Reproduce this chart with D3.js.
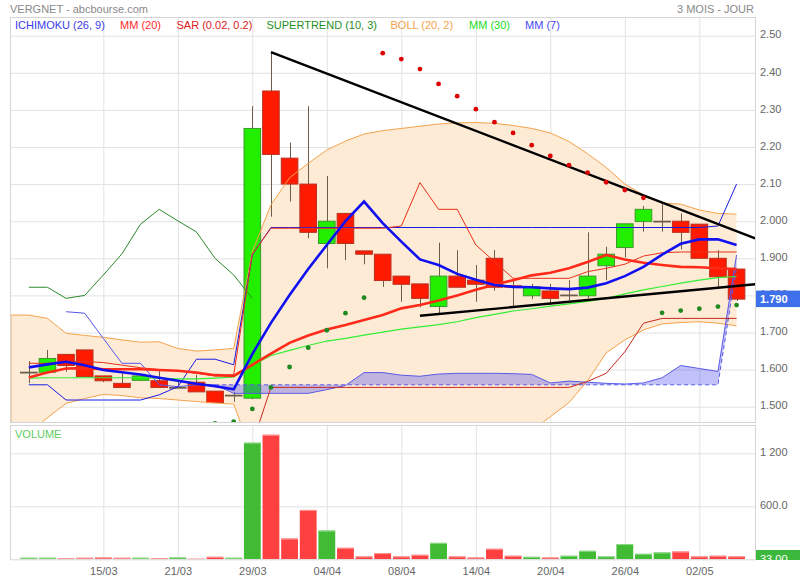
<!DOCTYPE html>
<html><head><meta charset="utf-8">
<script src="https://cdn.jsdelivr.net/npm/d3@7"></script>
<style>body{margin:0;background:#fff}svg{display:block;font-family:"Liberation Sans",Arial,sans-serif}</style>
</head><body><svg id="c" width="800" height="580"></svg>
<script>
// ---------- DATA ----------
const dateLabels = ["15/03","21/03","29/03","04/04","08/04","14/04","20/04","26/04","02/05"];
const dateTickIndex = [4,8,12,16,20,24,28,32,36];
const priceTickValues = [2.5,2.4,2.3,2.2,2.1,2.0,1.9,1.8,1.7,1.6,1.5];
const priceTickLabels = ["2.50","2.40","2.30","2.20","2.10","2.000","1.900","1.800","1.700","1.600","1.500"];
const volTickValues = [1200, 600];
const volTickLabels = ["1 200", "600.0"];

const open  = [1.593,1.593,1.641,1.653,1.583,1.563,1.571,1.570,1.552,1.566,1.542,1.531,1.523,2.351,2.170,2.100,1.940,2.021,1.920,1.911,1.852,1.831,1.770,1.852,1.841,1.900,1.826,1.799,1.812,1.801,1.799,1.880,1.929,1.999,2.000,2.000,1.992,1.900,1.871];
const high  = [1.623,1.653,1.641,1.653,1.583,1.590,1.583,1.599,1.568,1.586,1.542,1.540,2.310,2.456,2.212,2.310,2.122,2.021,1.920,1.911,1.852,1.831,1.942,1.922,1.882,1.922,1.841,1.831,1.831,1.841,1.970,1.931,1.993,2.041,2.048,2.021,1.992,1.922,1.871];
const low   = [1.563,1.593,1.594,1.581,1.566,1.552,1.571,1.552,1.552,1.540,1.511,1.513,1.520,2.012,2.053,1.954,1.873,1.895,1.884,1.823,1.783,1.768,1.752,1.822,1.783,1.813,1.771,1.790,1.774,1.786,1.792,1.841,1.902,1.972,1.972,1.924,1.900,1.823,1.785];
const close = [1.593,1.630,1.611,1.581,1.570,1.552,1.583,1.552,1.552,1.540,1.511,1.531,2.250,2.180,2.100,1.970,2.000,1.940,1.911,1.840,1.830,1.792,1.852,1.822,1.830,1.822,1.822,1.823,1.792,1.801,1.852,1.911,1.993,2.032,2.000,1.970,1.900,1.850,1.790];
const volume = [17,17,9,17,20,17,17,14,20,6,28,17,1320,1410,235,559,325,130,32,70,32,51,186,32,20,119,40,28,20,40,96,32,172,62,77,88,32,40,33];

// Bollinger (20,2) from index -1
const bbStart = -1;
const bbUpper = [1.747,1.747,1.738,1.698,1.692,1.687,1.680,1.674,1.675,1.657,1.650,1.653,1.657,1.918,2.044,2.117,2.156,2.192,2.216,2.235,2.244,2.250,2.256,2.262,2.265,2.266,2.264,2.258,2.250,2.238,2.215,2.182,2.145,2.100,2.071,2.049,2.046,2.030,2.021,2.019];
const bbLower = [1.40,1.43,1.47,1.509,1.522,1.533,1.530,1.524,1.522,1.518,1.514,1.510,1.507,1.37,1.26,1.21,1.19,1.18,1.18,1.19,1.20,1.22,1.25,1.28,1.31,1.34,1.37,1.40,1.435,1.473,1.511,1.570,1.645,1.680,1.707,1.723,1.727,1.729,1.725,1.718];

const mm20 = [1.579,1.592,1.603,1.604,1.601,1.601,1.601,1.599,1.597,1.592,1.585,1.583,1.613,1.643,1.672,1.692,1.708,1.720,1.734,1.747,1.765,1.774,1.786,1.800,1.815,1.829,1.841,1.854,1.861,1.873,1.890,1.909,1.897,1.888,1.882,1.877,1.876,1.873,1.871];
const mm7  = [1.606,1.614,1.621,1.612,1.599,1.593,1.587,1.578,1.570,1.562,1.555,1.547,1.642,1.726,1.801,1.871,1.936,2.000,2.053,1.995,1.945,1.897,1.882,1.858,1.842,1.828,1.823,1.822,1.819,1.817,1.821,1.833,1.852,1.877,1.910,1.939,1.951,1.951,1.936];
const mm30 = [1.577,1.578,1.578,1.578,1.578,1.578,1.578,1.577,1.575,1.575,1.577,1.580,1.612,1.638,1.652,1.665,1.677,1.684,1.693,1.701,1.709,1.715,1.721,1.729,1.740,1.749,1.758,1.764,1.771,1.777,1.784,1.792,1.804,1.815,1.824,1.833,1.841,1.848,1.851];

// Ichimoku (26,9)
const tenkan = [1.617,1.617,1.622,1.622,1.619,1.612,1.605,1.600,1.597,1.590,1.583,1.586,1.911,1.981,1.981,1.981,1.981,1.981,1.981,1.981,1.987,2.104,2.032,2.032,1.936,1.891,1.846,1.846,1.846,1.846,1.864,1.873,1.884,1.906,1.915,1.917,1.917,1.917,1.917];
const kijun  = [1.559,1.559,1.518,1.518,1.518,1.518,1.518,1.532,1.554,1.628,1.628,1.613,1.910,1.983,1.983,1.983,1.983,1.983,1.983,1.983,1.983,1.983,1.983,1.983,1.983,1.983,1.983,1.983,1.983,1.983,1.983,1.983,1.983,1.983,1.983,1.983,1.983,1.987,2.100];
const chikou = [1.822,1.822,1.792,1.800,1.855,1.912,1.992,2.032,2.001,1.971,1.900,1.855,1.792];
const laggingStart = 2;
const lagging = [1.756,1.752,1.684,1.617,1.617,1.559,1.554,1.559,1.559];
const cloudStart = 10;
const senkouA = [1.559,1.536,1.536,1.536,1.536,1.536,1.546,1.557,1.592,1.592,1.585,1.582,1.588,1.590,1.590,1.590,1.589,1.587,1.564,1.569,1.566,1.563,1.561,1.564,1.578,1.611,1.603,1.595,1.909];
const senkouB = [1.559,1.559,1.559,1.559,1.559,1.559,1.559,1.559,1.559,1.559,1.559,1.559,1.559,1.559,1.559,1.559,1.559,1.559,1.559,1.559,1.559,1.559,1.559,1.559,1.559,1.559,1.559,1.559,1.877];

// Supertrend (10,3)
const stStart = 12;
const supertrend = [1.40,1.552,1.552,1.552,1.552,1.552,1.552,1.552,1.552,1.552,1.552,1.552,1.552,1.552,1.552,1.552,1.552,1.552,1.568,1.590,1.648,1.725,1.738,1.738,1.738,1.738,1.738];

// SAR (0.02, 0.2)
const sarStart = 10;
const sar = [1.455,1.460,1.494,1.552,1.607,1.659,1.706,1.752,1.794,2.453,2.437,2.410,2.370,2.337,2.302,2.267,2.238,2.205,2.176,2.151,2.131,2.105,2.084,2.063,1.753,1.759,1.764,1.770,1.774];

// Trend lines [index, price]
const trendDown = [[13, 2.456], [39, 1.954]];
const trendUp   = [[21, 1.745], [39, 1.830]];

const lastPrice = "1.790";
const lastVolume = "33.00";

// ---------- LAYOUT ----------
const svg = d3.select('#c');
const L = 10, R = 755, PT = 17, PB = 422, VT = 425, VB = 559.3;
const FS = 11;
const x = d3.scaleLinear().domain([-1, 39]).range([10.2, 755.2]);
const y = d3.scaleLinear().domain([1.5, 2.5]).range([406.7, 35.7]);
const yv = d3.scaleLinear().domain([0, 1200]).range([VB, 453.3]);
const cw = 16.6;

const defs = svg.append('defs');
defs.append('clipPath').attr('id','cp').append('rect').attr('x',L).attr('y',PT).attr('width',R-L).attr('height',PB-PT);
defs.append('clipPath').attr('id','cv').append('rect').attr('x',L).attr('y',VT).attr('width',R-L).attr('height',VB-VT);
defs.append('clipPath').attr('id','cl').append('rect').attr('x',755).attr('y',VT).attr('width',45).attr('height',VB-VT+0.7);

const ser = (start, arr) => arr.map((v,k)=>({i:start+k, v})).filter(d=>d.v!=null);

// header
svg.append('text').attr('x',10).attr('y',13).attr('font-size',FS).attr('fill','#8a8a8a').text('VERGNET - abcbourse.com');
svg.append('text').attr('x',754).attr('y',13).attr('text-anchor','end').attr('font-size',FS).attr('fill','#8a8a8a').text('3 MOIS - JOUR');

// ---------- PRICE PANEL ----------
const yAxis = d3.axisRight(y).tickValues(priceTickValues).tickFormat((d,k)=>priceTickLabels[k]).tickSize(-(R-L)).tickPadding(5);
const gy = svg.append('g').attr('transform',`translate(${R},0)`).call(yAxis);
gy.select('.domain').remove();
gy.selectAll('line').attr('stroke','#e2e2e2');
gy.selectAll('text').attr('fill','#666').attr('font-size',FS).attr('dy','0.2em');

const gxp = svg.append('g').attr('transform',`translate(0,${PB})`).call(d3.axisBottom(x).tickValues(dateTickIndex).tickSize(-(PB-PT)).tickFormat(''));
gxp.select('.domain').remove();
gxp.selectAll('line').attr('stroke','#e2e2e2');

const pg = svg.append('g').attr('clip-path','url(#cp)');

// Bollinger fill
const bb = bbUpper.map((u,k)=>({i:bbStart+k, u, l:bbLower[k]}));
pg.append('path').datum(bb).attr('fill','#fdebd6')
  .attr('d', d3.area().x(d=>x(d.i)).y0(d=>y(d.l)).y1(d=>y(d.u)));
pg.append('line').attr('x1',x(bbStart)+0.8).attr('x2',x(bbStart)+0.8).attr('y1',y(bbUpper[0])).attr('y2',PB).attr('stroke','#f5c58f').attr('stroke-width',1.5);

// candles
const cand = open.map((o,i)=>({i,o,h:high[i],l:low[i],c:close[i]}));
pg.selectAll('.wick').data(cand).join('line').attr('class','wick')
  .attr('x1',d=>Math.round(x(d.i))+0.5).attr('x2',d=>Math.round(x(d.i))+0.5)
  .attr('y1',d=>y(d.h)).attr('y2',d=>y(d.l)).attr('stroke','#6d5d4d').attr('stroke-width',1);
pg.selectAll('.body').data(cand).join('rect').attr('class','body')
  .attr('x',d=>x(d.i)-cw/2).attr('width',cw)
  .attr('y',d=>Math.min(y(d.o),y(d.c)))
  .attr('height',d=>Math.max(0.8,Math.abs(y(d.o)-y(d.c))))
  .attr('fill',d=>d.c>d.o?'#22ee00':(d.c<d.o?'#ff1a00':'none'))
  .attr('stroke',d=>d.c>d.o?'#3a9a2a':(d.c<d.o?'#b8301e':'#6d5d4d'))
  .attr('stroke-width',1);

const lineGen = d3.line().x(d=>x(d.i)).y(d=>y(d.v));
pg.append('path').datum(ser(bbStart,bbUpper)).attr('d',lineGen).attr('fill','none').attr('stroke','#f5a24a').attr('stroke-width',1);
pg.append('path').datum(ser(bbStart,bbLower)).attr('d',lineGen).attr('fill','none').attr('stroke','#f5a24a').attr('stroke-width',1);

// Ichimoku cloud
const cloud = senkouA.map((a,k)=>({i:cloudStart+k, a, b:senkouB[k]}));
pg.append('path').datum(cloud).attr('fill','rgba(70,70,240,0.33)')
  .attr('d', d3.area().x(d=>x(d.i)).y0(d=>y(d.b)).y1(d=>y(d.a)));
pg.append('path').datum(ser(cloudStart,senkouA)).attr('d',lineGen).attr('fill','none').attr('stroke','#5a5ae8').attr('stroke-width',1);
pg.append('path').datum(ser(cloudStart,senkouB)).attr('d',lineGen).attr('fill','none').attr('stroke','#5a5ae8').attr('stroke-width',1).attr('stroke-dasharray','4,3');

pg.append('path').datum(ser(0,chikou)).attr('d',lineGen).attr('fill','none').attr('stroke','#2a8a2a').attr('stroke-width',1);
pg.append('path').datum(ser(laggingStart,lagging)).attr('d',lineGen).attr('fill','none').attr('stroke','#5555ee').attr('stroke-width',1);
pg.append('path').datum(ser(stStart,supertrend)).attr('d',lineGen).attr('fill','none').attr('stroke','#c8281e').attr('stroke-width',1);
pg.append('path').datum(ser(0,kijun)).attr('d',lineGen).attr('fill','none').attr('stroke','#1a1ae6').attr('stroke-width',1);
pg.append('path').datum(ser(0,tenkan)).attr('d',lineGen).attr('fill','none').attr('stroke','#e8301c').attr('stroke-width',1);
pg.append('path').datum(ser(0,mm30)).attr('d',lineGen).attr('fill','none').attr('stroke','#33ee33').attr('stroke-width',1.2);
pg.append('path').datum(ser(0,mm20)).attr('d',lineGen).attr('fill','none').attr('stroke','#ff2a1a').attr('stroke-width',2.6);
pg.append('path').datum(ser(0,mm7)).attr('d',lineGen).attr('fill','none').attr('stroke','#1010f0').attr('stroke-width',2.6);

const tl = d3.line().x(d=>x(d[0])).y(d=>y(d[1]));
pg.append('path').datum(trendDown).attr('d',tl).attr('stroke','#000').attr('stroke-width',2.4).attr('fill','none');
pg.append('path').datum(trendUp).attr('d',tl).attr('stroke','#000').attr('stroke-width',2.4).attr('fill','none');

const sarD = ser(sarStart,sar);
pg.selectAll('.sar').data(sarD).join('circle').attr('class','sar')
  .attr('cx',d=>x(d.i)).attr('cy',d=>y(d.v)).attr('r',2.4)
  .attr('fill',d=>d.v>close[d.i]?'#dd0000':'#1f8a1f');

// legend
const legend = [
  ["ICHIMOKU (26, 9)","#3a3ae8",15],["MM (20)","#ff2a2a",120],["SAR (0.02, 0.2)","#e02020",176.5],
  ["SUPERTREND (10, 3)","#1f8f1f",266.5],["BOLL (20, 2)","#f5a24a",390.5],["MM (30)","#22dd22",469],["MM (7)","#4848f0",525]
];
svg.selectAll('.leg').data(legend).join('text').attr('class','leg')
  .attr('x',d=>d[2]).attr('y',29).attr('font-size',FS).attr('fill',d=>d[1]).text(d=>d[0]);

svg.append('rect').attr('x',L+0.5).attr('y',PT+0.5).attr('width',R-L).attr('height',PB-PT).attr('fill','none').attr('stroke','#d5d5d5');

// last price box
svg.append('rect').attr('x',756).attr('y',y(1.79)-8.5).attr('width',44).attr('height',16.5).attr('fill','#3d70ea');
svg.append('text').attr('x',760).attr('y',y(1.79)+4).attr('font-size',FS).attr('font-weight','bold').attr('fill','#fff').text(lastPrice);

// ---------- VOLUME PANEL ----------
const gvy = svg.append('g').attr('transform',`translate(${R},0)`).call(d3.axisRight(yv).tickValues(volTickValues).tickFormat((d,k)=>volTickLabels[k]).tickSize(-(R-L)).tickPadding(5));
gvy.select('.domain').remove();
gvy.selectAll('line').attr('stroke','#e2e2e2');
gvy.selectAll('text').attr('fill','#666').attr('font-size',FS).attr('dy','0.2em');

const gxv = svg.append('g').attr('transform',`translate(0,${VB})`).call(d3.axisBottom(x).tickValues(dateTickIndex).tickSize(-(VB-VT)).tickPadding(8).tickFormat((d,k)=>dateLabels[k]));
gxv.select('.domain').remove();
gxv.selectAll('line').attr('stroke','#e2e2e2');
gxv.selectAll('text').attr('fill','#666').attr('font-size',FS);

const vg = svg.append('g').attr('clip-path','url(#cv)');
const vd = volume.map((v,i)=>({i,v,up:close[i]>=open[i]}));
vg.selectAll('.vb').data(vd).join('rect').attr('class','vb')
  .attr('x',d=>x(d.i)-8.4).attr('width',16.8)
  .attr('y',d=>yv(d.v)).attr('height',d=>VB-yv(d.v))
  .attr('fill',d=>d.up?'#40bb33':'#ff4040');
vg.selectAll('.vt').data(vd).join('rect').attr('class','vt')
  .attr('x',d=>x(d.i)-8.4).attr('width',16.8)
  .attr('y',d=>yv(d.v)).attr('height',1)
  .attr('fill',d=>d.up?'#8fd88a':'#ff9a9a');

svg.append('text').attr('x',15).attr('y',438).attr('font-size',FS).attr('fill','#5fcc5f').text('VOLUME');
svg.append('rect').attr('x',L+0.5).attr('y',VT+0.5).attr('width',R-L).attr('height',VB-VT).attr('fill','none').attr('stroke','#d5d5d5');

const lv = svg.append('g').attr('clip-path','url(#cl)');
lv.append('rect').attr('x',756).attr('y',550).attr('width',44).attr('height',14).attr('fill','#3cb83c');
lv.append('text').attr('x',760).attr('y',562.5).attr('font-size',FS).attr('fill','#fff').text(lastVolume);
</script></body></html>
